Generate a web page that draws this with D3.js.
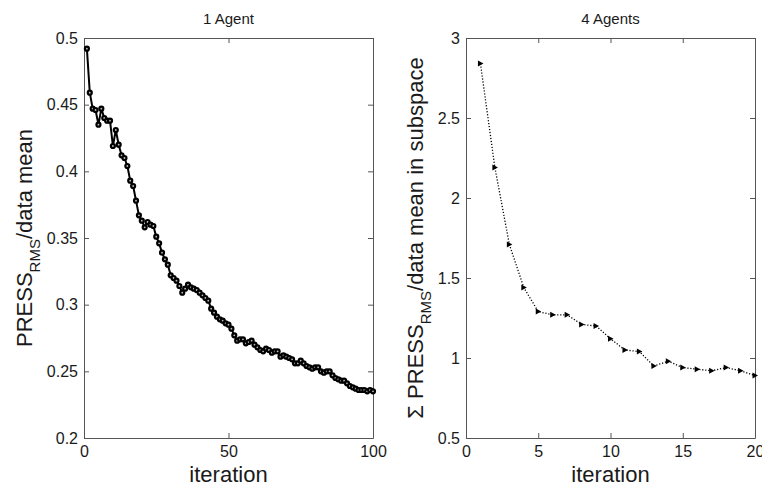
<!DOCTYPE html>
<html>
<head>
<meta charset="utf-8">
<script src="https://cdn.jsdelivr.net/npm/d3@7"></script>
<style>
  html, body { margin: 0; padding: 0; background: #fff; }
  svg { display: block; font-family: "Liberation Sans", Arial, Helvetica, sans-serif; }
</style>
</head>
<body>
<svg id="fig" width="762" height="487"></svg>
<script>
// ---- single agent run: normalised PRESS per iteration ----
const singleTitle = "1 Agent";
const singleValues = [
  0.492, 0.459, 0.447, 0.446, 0.435, 0.447, 0.440, 0.438, 0.438, 0.419,
  0.431, 0.420, 0.412, 0.410, 0.404, 0.393, 0.389, 0.378, 0.367, 0.363,
  0.358, 0.362, 0.360, 0.359, 0.351, 0.346, 0.339, 0.334, 0.330, 0.322,
  0.320, 0.318, 0.314, 0.309, 0.312, 0.315, 0.313, 0.312, 0.311, 0.309,
  0.307, 0.305, 0.303, 0.297, 0.294, 0.291, 0.289, 0.288, 0.286, 0.285,
  0.282, 0.277, 0.273, 0.274, 0.274, 0.271, 0.272, 0.273, 0.270, 0.268,
  0.266, 0.265, 0.267, 0.266, 0.264, 0.265, 0.265, 0.261, 0.262, 0.261,
  0.260, 0.259, 0.256, 0.256, 0.258, 0.256, 0.254, 0.253, 0.252, 0.253,
  0.253, 0.250, 0.249, 0.250, 0.250, 0.247, 0.245, 0.244, 0.243, 0.243,
  0.241, 0.239, 0.238, 0.237, 0.236, 0.236, 0.236, 0.235, 0.236, 0.235
];
const singleXDomain = [0, 100];
const singleYDomain = [0.2, 0.5];
const singleXTicks = [0, 50, 100];
const singleYTicks = [0.2, 0.25, 0.3, 0.35, 0.4, 0.45, 0.5];

// ---- four agents: summed normalised PRESS per iteration ----
const multiTitle = "4 Agents";
const multiValues = [
  2.84, 2.19, 1.71, 1.44, 1.29, 1.27, 1.27, 1.21, 1.20, 1.12,
  1.05, 1.04, 0.95, 0.98, 0.94, 0.93, 0.92, 0.94, 0.92, 0.89
];
const multiXDomain = [0, 20];
const multiYDomain = [0.5, 3];
const multiXTicks = [0, 5, 10, 15, 20];
const multiYTicks = [0.5, 1, 1.5, 2, 2.5, 3];

const xLabelText = "iteration";

const svg = d3.select("#fig");
const AXIS_COLOR = "#555555";
const TEXT_COLOR = "#1a1a1a";
const plotTop = 38, plotBottom = 438;

function drawPanel(opts) {
  const g = svg.append("g");
  const x = d3.scaleLinear().domain(opts.xDomain).range([opts.left, opts.right]);
  const y = d3.scaleLinear().domain(opts.yDomain).range([plotBottom, plotTop]);
  const fmt = d => String(d);

  // frame with inward ticks on every side
  const axes = [
    { a: d3.axisBottom(x).tickValues(opts.xTicks).tickFormat(fmt).tickPadding(8), t: `translate(0,${plotBottom})` },
    { a: d3.axisTop(x).tickValues(opts.xTicks).tickFormat(""), t: `translate(0,${plotTop})` },
    { a: d3.axisLeft(y).tickValues(opts.yTicks).tickFormat(fmt).tickPadding(6), t: `translate(${opts.left},0)` },
    { a: d3.axisRight(y).tickValues(opts.yTicks).tickFormat(""), t: `translate(${opts.right},0)` }
  ];
  axes.forEach(d => {
    const ax = g.append("g").attr("transform", d.t)
      .call(d.a.tickSizeInner(-5).tickSizeOuter(0));
    ax.select(".domain").attr("stroke", AXIS_COLOR).attr("stroke-width", 1);
    ax.selectAll(".tick line").attr("stroke", AXIS_COLOR).attr("stroke-width", 1);
    ax.selectAll(".tick text").attr("fill", TEXT_COLOR)
      .style("font-size", "16px").style("font-family", "'Liberation Sans', Arial, sans-serif");
  });

  // title
  g.append("text")
    .attr("x", (opts.left + opts.right) / 2).attr("y", 24)
    .attr("text-anchor", "middle").attr("fill", TEXT_COLOR)
    .style("font-size", "15px").text(opts.title);

  // x label
  g.append("text")
    .attr("x", (opts.left + opts.right) / 2).attr("y", 482)
    .attr("text-anchor", "middle").attr("fill", TEXT_COLOR)
    .style("font-size", "22px").text(xLabelText);

  // y label with subscript (shift in px so the tail returns to the baseline)
  const yl = g.append("text")
    .attr("transform", `translate(${opts.yLabelX},${(plotTop + plotBottom) / 2}) rotate(-90)`)
    .attr("text-anchor", "middle").attr("fill", TEXT_COLOR)
    .style("font-size", "22px");
  yl.append("tspan").text(opts.yLabelPre);
  yl.append("tspan").attr("dy", 8).style("font-size", "15px").text("RMS");
  yl.append("tspan").attr("dy", -8).text(opts.yLabelPost);

  const pts = opts.values.map((v, i) => ({ it: i + 1, v }));
  const line = d3.line().x(d => x(d.it)).y(d => y(d.v));
  g.append("path").datum(pts)
    .attr("d", line).attr("fill", "none")
    .attr("stroke", "#000").attr("stroke-width", opts.lineWidth)
    .attr("stroke-dasharray", opts.dash || null)
    .attr("stroke-linejoin", "round");

  return { g, x, y, pts };
}

// left panel: solid line with small ring markers
const p1 = drawPanel({
  left: 84, right: 373, xDomain: singleXDomain, yDomain: singleYDomain,
  xTicks: singleXTicks, yTicks: singleYTicks, values: singleValues,
  title: singleTitle, yLabelX: 32, yLabelPre: "PRESS", yLabelPost: "/data mean",
  lineWidth: 2
});
p1.g.selectAll("circle.m").data(p1.pts).join("circle")
  .attr("class", "m")
  .attr("cx", d => p1.x(d.it)).attr("cy", d => p1.y(d.v)).attr("r", 2)
  .attr("fill", "#bbb").attr("stroke", "#000").attr("stroke-width", 2.2);

// right panel: dotted line with right-pointing triangle markers
const p2 = drawPanel({
  left: 466, right: 755, xDomain: multiXDomain, yDomain: multiYDomain,
  xTicks: multiXTicks, yTicks: multiYTicks, values: multiValues,
  title: multiTitle, yLabelX: 423, yLabelPre: "\u03A3 PRESS", yLabelPost: "/data mean in subspace",
  lineWidth: 1.3, dash: "1.2,1.8"
});
p2.g.selectAll("path.m").data(p2.pts).join("path")
  .attr("class", "m")
  .attr("transform", d => `translate(${p2.x(d.it)},${p2.y(d.v)})`)
  .attr("d", "M-2.5,-3L3,0L-2.5,3Z")
  .attr("fill", "#000");
</script>
</body>
</html>
